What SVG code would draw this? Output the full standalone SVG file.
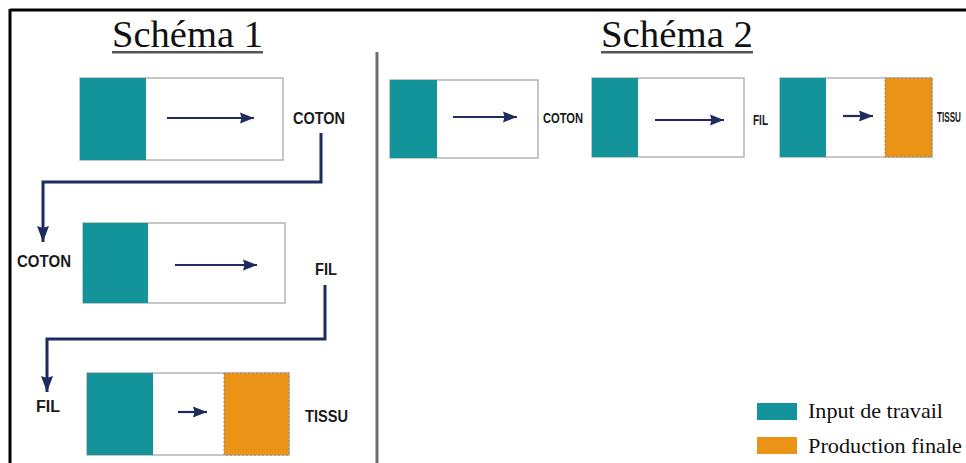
<svg xmlns="http://www.w3.org/2000/svg" width="966" height="463" viewBox="0 0 966 463">
<defs>
<marker id="ah" markerUnits="userSpaceOnUse" markerWidth="15" markerHeight="12" refX="14" refY="6" orient="auto">
<path d="M0,0.5 L14,6 L0,11.5 L1.5,6 Z" fill="#1e2b5e"/>
</marker>
<marker id="ahc" markerUnits="userSpaceOnUse" markerWidth="17" markerHeight="14" refX="16" refY="7" orient="auto">
<path d="M0,1 L16,7 L0,13 L2,7 Z" fill="#1e2b5e"/>
</marker>
</defs>
<style>
.box{fill:#fff;stroke:#b4b4b4;stroke-width:1.5}
.teal{fill:#12949a}
.orange{fill:#eb9316;stroke:#8a8a8a;stroke-width:1;stroke-dasharray:2 2}
.arr{stroke:#1e2b5e;stroke-width:2.2;fill:none;marker-end:url(#ah)}
.con{stroke:#1e2b5e;stroke-width:3;fill:none;marker-end:url(#ahc)}
.title{font-family:"Liberation Serif","Times New Roman",serif;font-size:37px;fill:#111}
.lbl{font-family:"Liberation Sans",Arial,sans-serif;font-weight:bold;font-size:17px;fill:#1a1a1a}
.lbl2{font-family:"Liberation Sans",Arial,sans-serif;font-weight:bold;font-size:15px;fill:#1a1a1a}
.leg{font-family:"Liberation Serif","Times New Roman",serif;font-size:21px;fill:#111}
</style>
<rect width="966" height="463" fill="#fff"/>
<g id="frame">
<line x1="10" y1="10" x2="966" y2="10" stroke="#000" stroke-width="3"/>
<line x1="10" y1="9" x2="10" y2="463" stroke="#000" stroke-width="3"/>
<line x1="377" y1="52" x2="377" y2="463" stroke="#6e6e6e" stroke-width="3"/>
</g>
<g id="title1">
<text class="title" x="112" y="47" textLength="151" lengthAdjust="spacingAndGlyphs">Schéma 1</text>
<rect x="112" y="51" width="151" height="2.5" fill="#555"/>
</g>
<g id="title2">
<text class="title" x="601" y="47" textLength="152" lengthAdjust="spacingAndGlyphs">Schéma 2</text>
<rect x="601" y="51" width="152" height="2.5" fill="#555"/>
</g>
<g id="s1-box1">
<rect class="box" x="80" y="78" width="203" height="82"/>
<rect class="teal" x="80" y="78" width="66" height="82"/>
<line class="arr" x1="167" y1="118" x2="254" y2="118"/>
</g>
<g id="s1-box2">
<rect class="box" x="83" y="223" width="202" height="80"/>
<rect class="teal" x="83" y="223" width="65" height="80"/>
<line class="arr" x1="175" y1="265" x2="257" y2="265"/>
</g>
<g id="s1-box3">
<rect class="box" x="87" y="373" width="202" height="82"/>
<rect class="teal" x="87" y="373" width="66" height="82"/>
<rect class="orange" x="224" y="373" width="65" height="82"/>
<line class="arr" x1="178" y1="412" x2="207" y2="412"/>
</g>
<g id="s1-labels">
<text class="lbl" x="293" y="124" textLength="52" lengthAdjust="spacingAndGlyphs">COTON</text>
<text class="lbl" x="17" y="267" textLength="54" lengthAdjust="spacingAndGlyphs">COTON</text>
<text class="lbl" x="315" y="275" textLength="22" lengthAdjust="spacingAndGlyphs">FIL</text>
<text class="lbl" x="36" y="412" textLength="24" lengthAdjust="spacingAndGlyphs">FIL</text>
<text class="lbl" x="305" y="422" textLength="43" lengthAdjust="spacingAndGlyphs">TISSU</text>
</g>
<g id="connectors">
<path class="con" d="M321,133 V182 H43 V242"/>
<path class="con" d="M325,285 V339 H47 V392"/>
</g>
<g id="s2-boxA">
<rect class="box" x="390" y="80" width="148" height="78"/>
<rect class="teal" x="390" y="80" width="47" height="78"/>
<line class="arr" x1="453" y1="117" x2="517" y2="117"/>
</g>
<g id="s2-boxB">
<rect class="box" x="592" y="78" width="152" height="79"/>
<rect class="teal" x="592" y="78" width="46" height="79"/>
<line class="arr" x1="655" y1="120" x2="724" y2="120"/>
</g>
<g id="s2-boxC">
<rect class="box" x="780" y="78" width="152" height="79"/>
<rect class="teal" x="780" y="78" width="46" height="79"/>
<rect class="orange" x="885" y="78" width="47" height="79"/>
<line class="arr" x1="843" y1="116" x2="873" y2="116"/>
</g>
<g id="s2-labels">
<text class="lbl2" x="543" y="123" textLength="40" lengthAdjust="spacingAndGlyphs">COTON</text>
<text class="lbl2" x="753" y="125" textLength="15" lengthAdjust="spacingAndGlyphs">FIL</text>
<text class="lbl2" x="937" y="122" textLength="24" lengthAdjust="spacingAndGlyphs">TISSU</text>
</g>
<g id="legend">
<rect class="teal" x="757" y="403" width="40" height="17"/>
<text class="leg" x="808" y="418" textLength="135" lengthAdjust="spacingAndGlyphs">Input de travail</text>
<rect x="757" y="437" width="40" height="17" fill="#eb9316"/>
<text class="leg" x="808" y="453" textLength="154" lengthAdjust="spacingAndGlyphs">Production finale</text>
</g>
</svg>
